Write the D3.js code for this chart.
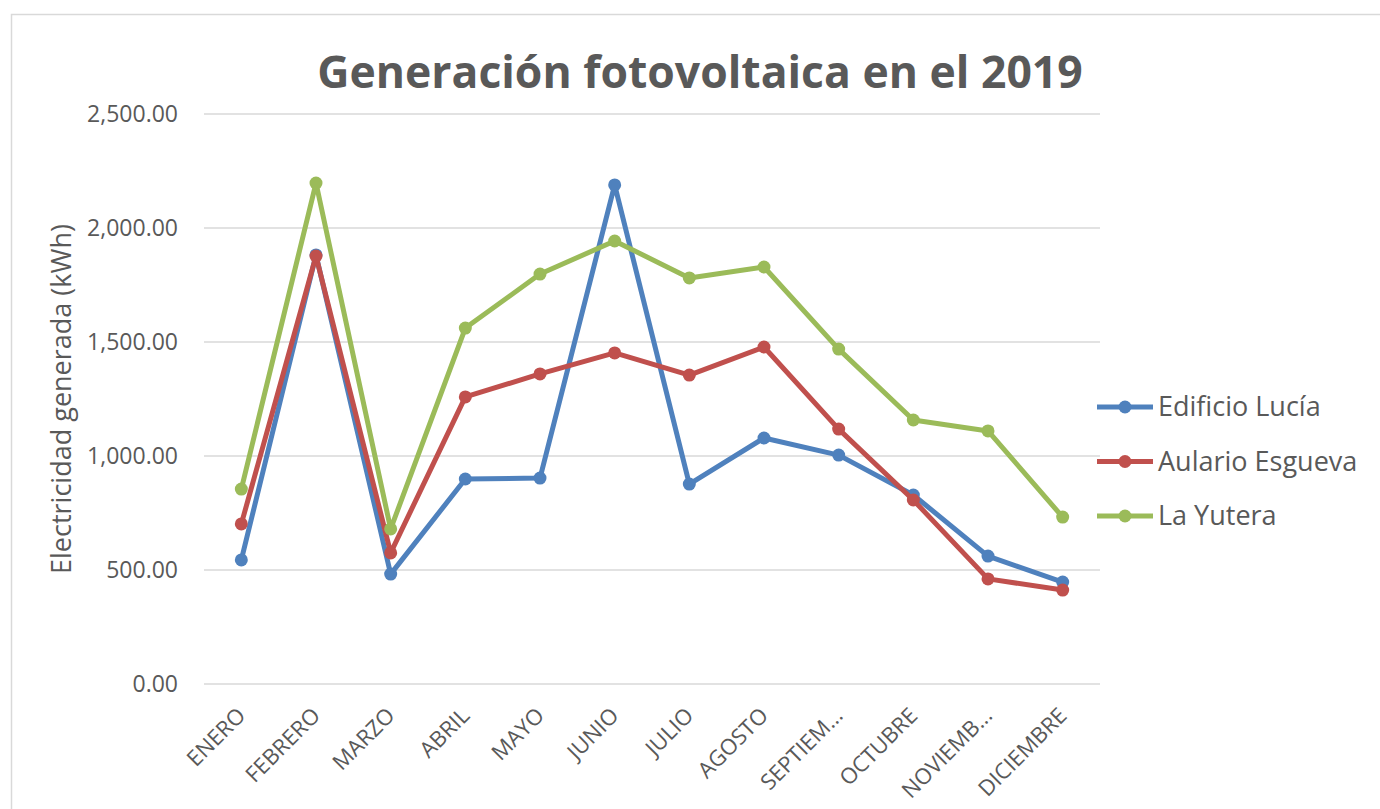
<!DOCTYPE html>
<html>
<head>
<meta charset="utf-8">
<script src="https://cdn.jsdelivr.net/npm/d3@7"></script>
<style>
  body { margin: 0; background: #fff; }
  svg text { font-family: "Open Sans", "Liberation Sans", sans-serif; fill: #595959; }
</style>
</head>
<body>
<svg id="chart" width="1380" height="809"></svg>
<script>
// months on the x axis
let months = ["ENERO", "FEBRERO", "MARZO", "ABRIL", "MAYO", "JUNIO", "JULIO",
              "AGOSTO", "SEPTIEM...", "OCTUBRE", "NOVIEMB...", "DICIEMBRE"];

let seriesNames = ["Edificio Lucía", "Aulario Esgueva", "La Yutera"];

let edificioLucia = [544, 1882, 482, 899, 903, 2189, 877, 1079, 1004, 829, 561, 447];
let aularioEsgueva = [702, 1877, 575, 1259, 1360, 1452, 1355, 1478, 1118, 807, 461, 412];
let laYutera = [855, 2197, 680, 1561, 1798, 1943, 1781, 1829, 1469, 1158, 1110, 732];

let yTicks = [0, 500, 1000, 1500, 2000, 2500];

let colors = ["#4f81bd", "#c0504d", "#9bbb59"];

let svg = d3.select("#chart");
let margin = {top: 114, right: 280, bottom: 125, left: 204};
let width = 1380, height = 809;

// chart area border
svg.append("rect")
  .attr("x", 11.5).attr("y", 14.5)
  .attr("width", 1400).attr("height", 820)
  .attr("fill", "none")
  .attr("stroke", "#d9d9d9")
  .attr("stroke-width", 1.5);

let xScale = d3.scalePoint()
  .domain(months)
  .range([margin.left, width - margin.right])
  .padding(0.5);

let yScale = d3.scaleLinear()
  .domain([0, 2500])
  .range([height - margin.bottom, margin.top]);

// gridlines
svg.append("g")
  .selectAll("line")
  .data(yTicks)
  .enter()
  .append("line")
  .attr("x1", margin.left)
  .attr("x2", width - margin.right)
  .attr("y1", d => yScale(d))
  .attr("y2", d => yScale(d))
  .attr("stroke", "#d9d9d9")
  .attr("stroke-width", 1.5);

// y axis labels
let yAxis = d3.axisLeft(yScale)
  .tickValues(yTicks)
  .tickFormat(d3.format(",.2f"))
  .tickSize(0)
  .tickPadding(26);

svg.append("g")
  .attr("transform", "translate(" + margin.left + ",0)")
  .call(yAxis)
  .call(g => g.select(".domain").remove())
  .selectAll("text")
  .style("font-size", "23px")
  .attr("fill", "#595959");

// x axis labels rotated
let xAxis = d3.axisBottom(xScale).tickSize(0).tickPadding(0);
svg.append("g")
  .attr("transform", "translate(0," + (height - margin.bottom) + ")")
  .call(xAxis)
  .call(g => g.select(".domain").remove())
  .selectAll("text")
  .style("font-size", "22px")
  .attr("fill", "#595959")
  .attr("text-anchor", "end")
  .attr("dy", null)
  .attr("y", 0)
  .attr("transform", "translate(5,33) rotate(-45)");

// title
svg.append("text")
  .attr("x", 700)
  .attr("y", 88)
  .attr("text-anchor", "middle")
  .style("font-size", "44.5px")
  .style("font-weight", "bold")
  .text("Generación fotovoltaica en el 2019");

// y axis title
svg.append("text")
  .attr("transform", "translate(71,399) rotate(-90)")
  .attr("text-anchor", "middle")
  .style("font-size", "27px")
  .text("Electricidad generada (kWh)");

let allSeries = [edificioLucia, aularioEsgueva, laYutera];

let line = d3.line()
  .x((d, i) => xScale(months[i]))
  .y(d => yScale(d));

allSeries.forEach(function(values, s) {
  svg.append("path")
    .datum(values)
    .attr("d", line)
    .attr("fill", "none")
    .attr("stroke", colors[s])
    .attr("stroke-width", 5)
    .attr("stroke-linejoin", "round");

  svg.append("g")
    .selectAll("circle")
    .data(values)
    .enter()
    .append("circle")
    .attr("cx", (d, i) => xScale(months[i]))
    .attr("cy", d => yScale(d))
    .attr("r", 6.5)
    .attr("fill", colors[s]);
});

// legend
let legend = svg.append("g")
  .selectAll("g")
  .data(seriesNames)
  .enter()
  .append("g")
  .attr("transform", (d, i) => "translate(1097," + (407 + i * 54.5) + ")");

legend.append("line")
  .attr("x1", 0).attr("x2", 56)
  .attr("stroke", (d, i) => colors[i])
  .attr("stroke-width", 5);

legend.append("circle")
  .attr("cx", 28)
  .attr("r", 6.5)
  .attr("fill", (d, i) => colors[i]);

legend.append("text")
  .attr("x", 61)
  .attr("y", 9)
  .style("font-size", "27px")
  .text(d => d);
</script>
</body>
</html>
